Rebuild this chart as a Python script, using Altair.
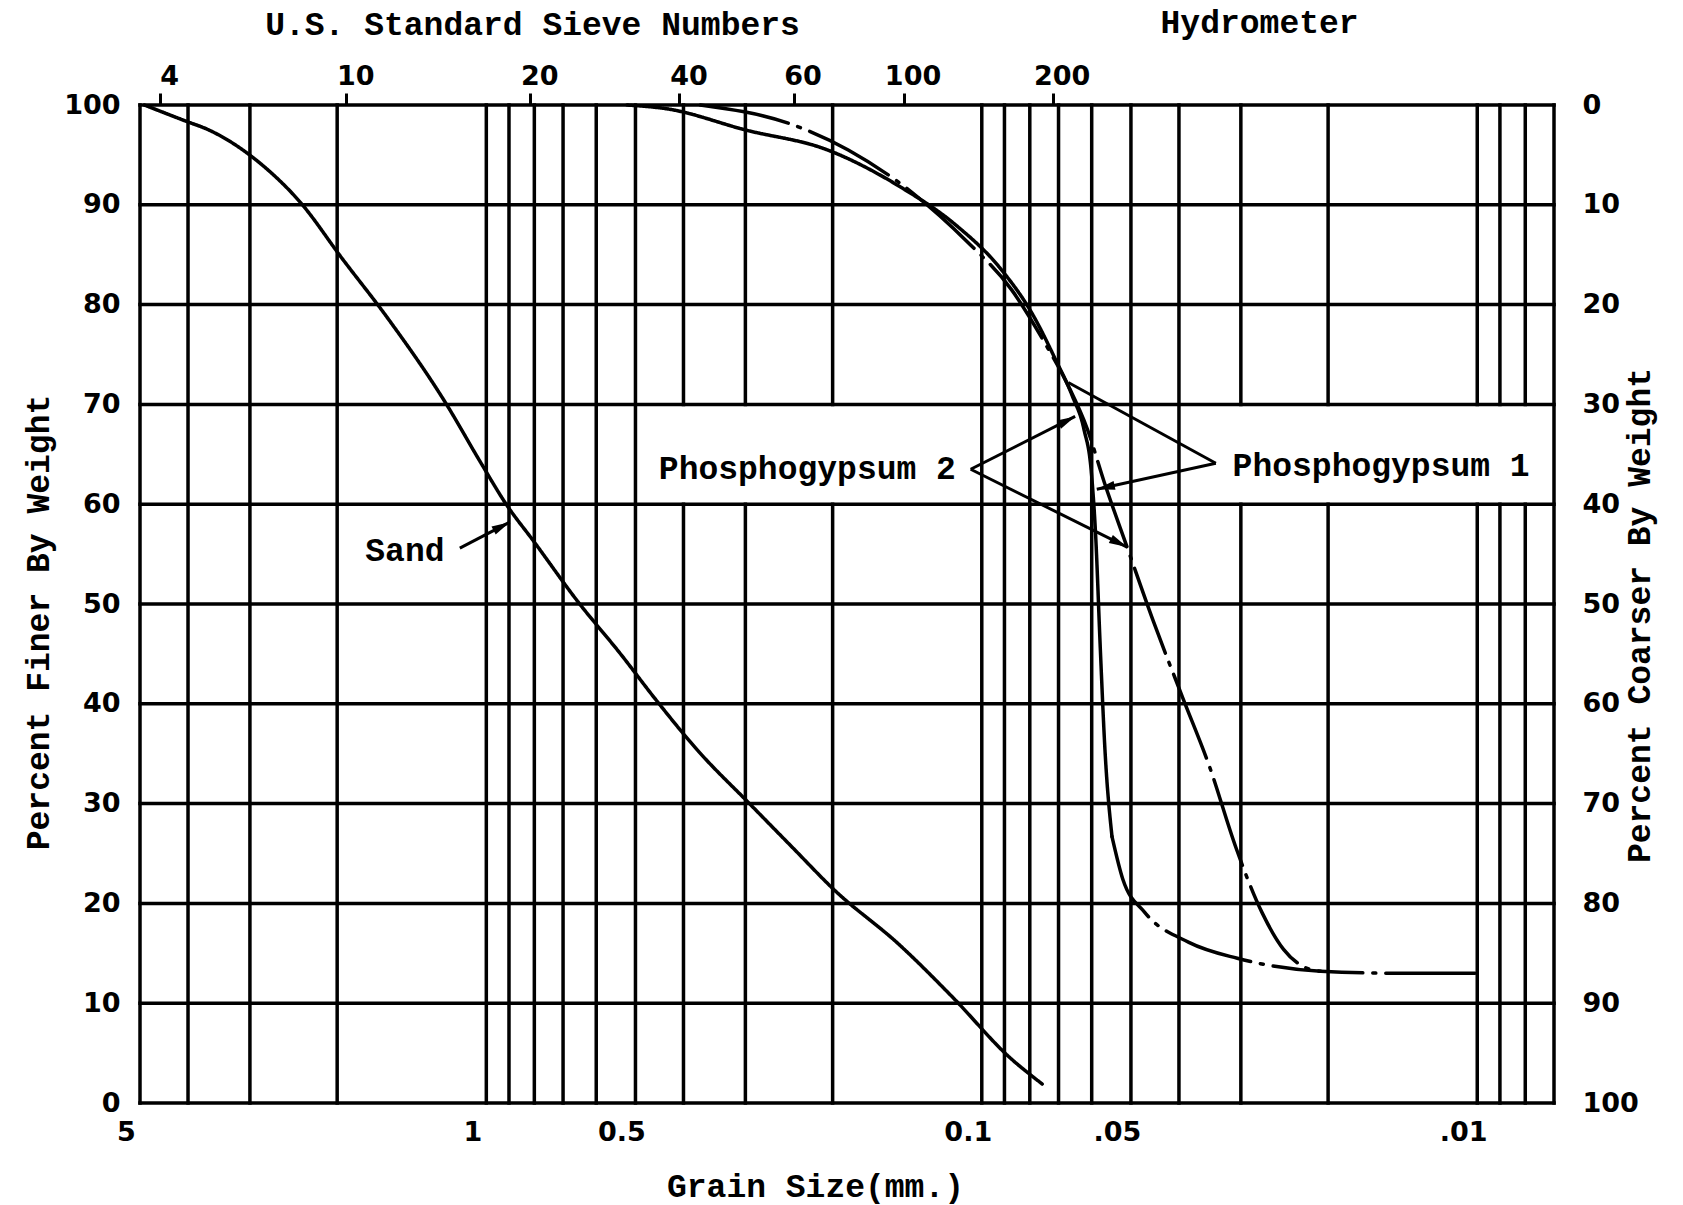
import math
import altair as alt
import pandas as pd

# ---------------- grain-size readings: size (mm) vs percent finer ----------------
sand_size = [4.9, 4.0, 3.67, 2.90, 2.36, 1.96, 1.59, 1.21, 1.03, 0.912, 0.80, 0.655,
             0.534, 0.458, 0.374, 0.293, 0.241, 0.198, 0.147, 0.114, 0.088, 0.0755]
sand_finer = [100, 98.3, 97.6, 94.4, 90.1, 84.7, 78.8, 70.2, 64.3, 60.0, 56.2, 50.3,
              44.9, 40.6, 35.3, 29.9, 25.6, 21.3, 15.9, 10.5, 4.6, 1.9]

# Phosphogypsum 1: sieve part (solid) and hydrometer part (dash-dot)
pg1_sieve_size = [0.52, 0.43, 0.30, 0.205, 0.145, 0.113, 0.092, 0.0785, 0.071, 0.0656,
                  0.0622, 0.0601, 0.0589, 0.0577, 0.0564, 0.0546]
pg1_sieve_finer = [100, 99.6, 97.5, 95.5, 91.7, 88.0, 83.7, 78.8, 74.5, 70.8,
                   67.5, 63.2, 56.8, 46.0, 35.3, 26.7]
pg1_hydro_size = [0.0546, 0.0519, 0.0469, 0.0382, 0.0305, 0.0207, 0.0145, 0.0101]
pg1_hydro_finer = [26.7, 22.4, 19.1, 16.1, 14.5, 13.2, 13.0, 13.0]

# Phosphogypsum 2 (dash-dot throughout)
pg2_size = [0.37, 0.24, 0.186, 0.138, 0.107, 0.0871, 0.0745, 0.0668, 0.0612, 0.0566,
            0.0509, 0.0450, 0.0393, 0.0347, 0.0307, 0.0272, 0.0246, 0.0223, 0.0207]
pg2_finer = [100, 98.0, 95.5, 91.2, 86.3, 81.5, 76.1, 71.8, 67.5, 62.2,
             55.7, 48.2, 40.6, 33.7, 25.6, 19.1, 15.4, 13.6, 13.2]

# ---------------- grid and axes ----------------
grid_sizes = [5, 4, 3, 2, 1, 0.9, 0.8, 0.7, 0.6, 0.5, 0.4, 0.3, 0.2,
              0.1, 0.09, 0.08, 0.07, 0.06, 0.05, 0.04, 0.03, 0.02,
              0.01, 0.009, 0.008, 0.007]
# vertical lines interrupted by the two label strips (between 60 and 70 %)
strip_sizes = [0.4, 0.3, 0.2, 0.03, 0.02, 0.01, 0.009, 0.008]
strip_low, strip_high = 60, 70
finer_levels = list(range(0, 101, 10))

size_ticks = [5, 1, 0.5, 0.1, 0.05, 0.01]
size_tick_labels = ["5", "1", "0.5", "0.1", ".05", ".01"]
sieve_openings = [4.75, 2.0, 0.85, 0.425, 0.25, 0.15, 0.075]
sieve_numbers = ["4", "10", "20", "40", "60", "100", "200"]

# ---------------- annotations ----------------
note_text = ["Sand", "Phosphogypsum 2", "Phosphogypsum 1", "Hydrometer"]
note_size = [1.46, 0.2249, 0.01563, 0.0275]
note_finer = [55.3, 63.5, 63.8, 108.2]

arrow_from_size = [1.131, 0.1053, 0.1053, 0.0337, 0.0337]
arrow_from_finer = [55.6, 63.5, 63.5, 64.1, 64.1]
arrow_to_size = [0.897, 0.0648, 0.0509, 0.0669, 0.0586]
arrow_to_finer = [58.2, 68.8, 55.7, 72.2, 61.5]
arrow_has_head = [True, True, True, False, True]

# ---------------- layout ----------------
W, H = 1414, 998
LEFT, TOP = 140, 105
D_MAX, D_MIN = 5.0, 0.007
SPAN = math.log10(D_MAX / D_MIN)
HEAD = "M0,-1L0.5,1L-0.5,1Z"
HEAD_SIZE = 330
HEAD_HALF = math.sqrt(HEAD_SIZE) / 2

INK = "#000000"
MONO = "Liberation Mono, DejaVu Sans Mono, monospace"
SANS = "DejaVu Sans, Liberation Sans, sans-serif"
GRID_W = 3.5
CURVE_W = 3.5


def px(d):
    return W * math.log10(D_MAX / d) / SPAN


def py(p):
    return H * (1 - p / 100.0)


def size_at(x):
    return D_MAX / 10 ** (x / W * SPAN)


def finer_at(y):
    return 100.0 * (1 - y / H)


def label_expr(values, labels):
    expr = "''"
    for v, lab in reversed(list(zip(values, labels))):
        expr = f"abs(datum.value - {v}) < {v * 1e-3} ? '{lab}' : ({expr})"
    return expr


# curve table
rows = []


def add_curve(name, style, sizes, finers):
    for i, (s, f) in enumerate(zip(sizes, finers)):
        rows.append({"segment": name, "style": style, "idx": i, "size": s, "finer": f})


add_curve("sand", "solid", sand_size, sand_finer)
add_curve("pg1 sieve", "solid", pg1_sieve_size, pg1_sieve_finer)
add_curve("pg1 hydrometer", "dashdot", pg1_hydro_size, pg1_hydro_finer)
add_curve("pg2", "dashdot", pg2_size, pg2_finer)
curve_df = pd.DataFrame(rows)

# vertical grid segments
vrows = []
for s in grid_sizes:
    if s in strip_sizes:
        vrows.append({"size": s, "lo": 0, "hi": strip_low})
        vrows.append({"size": s, "lo": strip_high, "hi": 100})
    else:
        vrows.append({"size": s, "lo": 0, "hi": 100})
vgrid_df = pd.DataFrame(vrows)

hgrid_df = pd.DataFrame({"finer": finer_levels,
                         "x0": [D_MAX] * len(finer_levels),
                         "x1": [D_MIN] * len(finer_levels)})

arrow_df = pd.DataFrame({"s0": arrow_from_size, "f0": arrow_from_finer,
                         "s1": arrow_to_size, "f1": arrow_to_finer})

head_rows = []
for s0, f0, s1, f1, h in zip(arrow_from_size, arrow_from_finer,
                             arrow_to_size, arrow_to_finer, arrow_has_head):
    if not h:
        continue
    x0, y0, x1, y1 = px(s0), py(f0), px(s1), py(f1)
    dx, dy = x1 - x0, y1 - y0
    length = math.hypot(dx, dy)
    ux, uy = dx / length, dy / length
    cx, cy = x1 - ux * HEAD_HALF, y1 - uy * HEAD_HALF
    angle = math.degrees(math.atan2(dx, -dy)) % 360
    head_rows.append({"size": size_at(cx), "finer": finer_at(cy), "angle": angle})
head_df = pd.DataFrame(head_rows)

note_df = pd.DataFrame({"text": note_text, "size": note_size, "finer": note_finer})

xs = alt.Scale(type="log", domain=[D_MIN, D_MAX], reverse=True, nice=False)
ys = alt.Scale(domain=[0, 100], nice=False, zero=False)

vgrid = alt.Chart(vgrid_df).mark_rule(color=INK, strokeWidth=GRID_W, strokeCap="square").encode(
    x=alt.X("size:Q", scale=xs, axis=alt.Axis(
        orient="bottom", values=size_ticks,
        labelExpr=label_expr(size_ticks, size_tick_labels),
        ticks=False, domain=False, grid=False, labelFlush=False, labelOverlap=False,
        labelPadding=16, labelOffset=-14, title="Grain Size(mm.)",
        titleX=675, titleY=83, titleAlign="center", titleBaseline="middle")),
    y=alt.Y("lo:Q", scale=ys, axis=None),
    y2="hi:Q",
)

hgrid = alt.Chart(hgrid_df).mark_rule(color=INK, strokeWidth=GRID_W, strokeCap="square").encode(
    x=alt.X("x0:Q", scale=xs, axis=alt.Axis(
        orient="top", values=sieve_openings,
        labelExpr=label_expr(sieve_openings, sieve_numbers),
        ticks=True, tickSize=12, tickWidth=3, tickColor=INK, tickOffset=9,
        domain=False, grid=False, labelFlush=False, labelOverlap=False,
        labelPadding=3, labelOffset=9, title="U.S. Standard Sieve Numbers",
        titleX=392, titleY=-81, titleAlign="center", titleBaseline="middle")),
    x2="x1:Q",
    y=alt.Y("finer:Q", scale=ys, axis=alt.Axis(
        orient="left", values=finer_levels, ticks=False, domain=False, grid=False,
        labelPadding=20, title="Percent Finer By Weight",
        titleAngle=270, titleX=-102, titleY=517, titleAlign="center",
        titleBaseline="middle")),
)

coarser_axis = alt.Chart(hgrid_df).mark_rule(opacity=0).encode(
    y=alt.Y("finer:Q", scale=ys, axis=alt.Axis(
        orient="right", values=finer_levels, labelExpr="format(100 - datum.value, 'd')",
        ticks=False, domain=False, grid=False, labelPadding=28,
        title="Percent Coarser By Weight",
        titleAngle=270, titleX=85, titleY=510, titleAlign="center",
        titleBaseline="middle")),
)

curves = alt.Chart(curve_df).mark_line(
    color=INK, strokeWidth=CURVE_W, interpolate="monotone", strokeCap="round"
).encode(
    x=alt.X("size:Q", scale=xs, axis=None),
    y=alt.Y("finer:Q", scale=ys, axis=None),
    detail="segment:N",
    order="idx:Q",
    strokeDash=alt.StrokeDash("style:N", scale=alt.Scale(
        domain=["solid", "dashdot"], range=[[1, 0], [90, 10, 3, 10]]), legend=None),
)

arrows = alt.Chart(arrow_df).mark_rule(color=INK, strokeWidth=3).encode(
    x=alt.X("s0:Q", scale=xs, axis=None),
    x2="s1:Q",
    y=alt.Y("f0:Q", scale=ys, axis=None),
    y2="f1:Q",
)

heads = alt.Chart(head_df).mark_point(
    shape=HEAD, filled=True, color=INK, opacity=1, size=HEAD_SIZE
).encode(
    x=alt.X("size:Q", scale=xs, axis=None),
    y=alt.Y("finer:Q", scale=ys, axis=None),
    angle=alt.Angle("angle:Q", scale=None),
)

notes = alt.Chart(note_df).mark_text(
    font=MONO, fontSize=33, fontWeight="bold", color=INK,
    align="center", baseline="middle"
).encode(
    x=alt.X("size:Q", scale=xs, axis=None),
    y=alt.Y("finer:Q", scale=ys, axis=None),
    text="text:N",
)

chart = alt.layer(vgrid, hgrid, coarser_axis, curves, arrows, heads, notes).resolve_axis(
    x="independent", y="independent"
).properties(
    width=W, height=H,
    autosize="none",
    padding={"left": LEFT, "top": TOP, "right": 1683 - LEFT - W, "bottom": 1205 - TOP - H},
    background="white",
).configure_view(stroke=None).configure_axis(
    labelFont=SANS, labelFontSize=27, labelFontWeight="bold", labelColor=INK,
    titleFont=MONO, titleFontSize=33, titleFontWeight="bold", titleColor=INK,
)

chart.save("out.html", embed_options={"renderer": "svg", "actions": False})
